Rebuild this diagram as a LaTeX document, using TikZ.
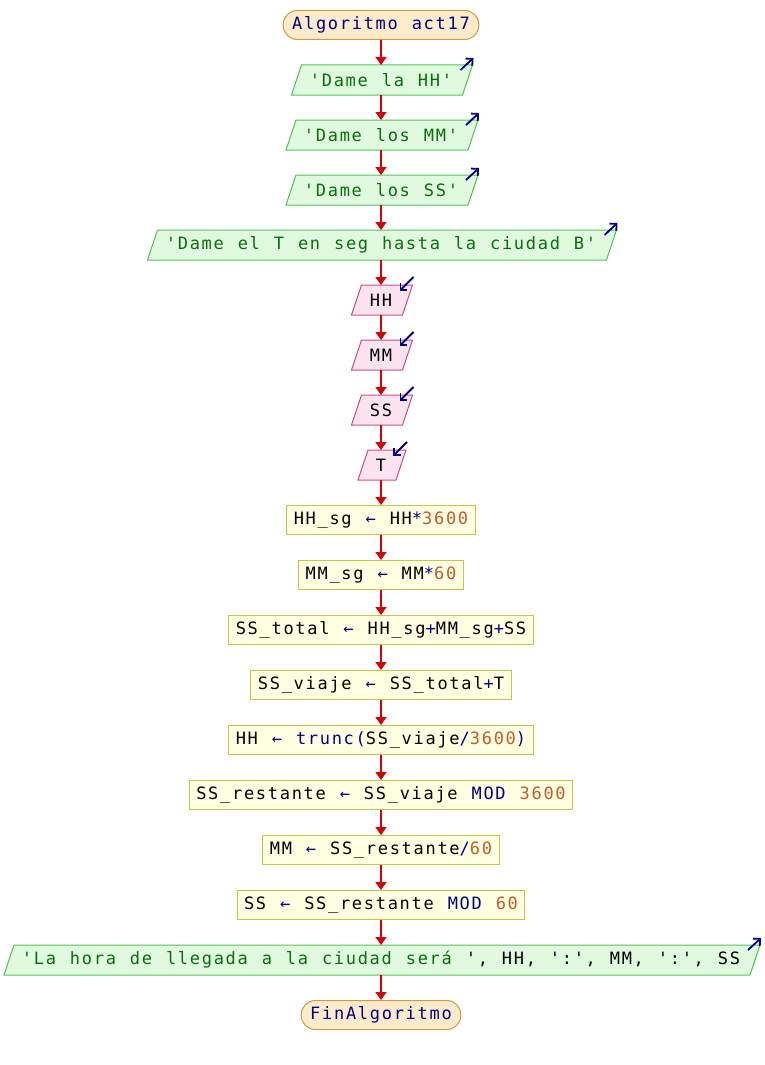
\documentclass[tikz,border=0pt]{standalone}
\usepackage{fontspec}
\usetikzlibrary{arrows.meta,calc,backgrounds}
\newfontfamily\flowfont{DejaVu Sans Mono}[LetterSpace=10,WordSpace={1.166,0,0},Ligatures=TeXOff]

\definecolor{termfill}{HTML}{FDEBCB}
\definecolor{termline}{HTML}{D19A45}
\definecolor{outfill}{HTML}{E0FAE0}
\definecolor{outline}{HTML}{5CBF5C}
\definecolor{infill}{HTML}{FCE4EF}
\definecolor{inline}{HTML}{C8508A}
\definecolor{procfill}{HTML}{FFFFE2}
\definecolor{procline}{HTML}{C8C34A}
\definecolor{flowred}{HTML}{CC0000}
\definecolor{kwblue}{HTML}{000080}
\definecolor{strgreen}{HTML}{0A6E0A}
\definecolor{numbrown}{HTML}{B8602E}

\newcommand{\fkw}[1]{\textcolor{kwblue}{#1}}
\newcommand{\fstr}[1]{\textcolor{strgreen}{#1}}
\newcommand{\fnum}[1]{\textcolor{numbrown}{#1}}
\newcommand{\fop}[1]{\textcolor{kwblue}{#1}}
\newcommand{\fasg}{\textcolor{kwblue}{←}}

\tikzset{
  every node/.style={font=\flowfont\fontsize{17}{20}\selectfont, minimum height=29pt, line width=1pt},
  termbox/.style={rectangle, rounded corners=14pt, fill=termfill, draw=termline, inner xsep=9pt},
  iobox/.style={rectangle, inner xsep=0pt},
  procbox/.style={rectangle, fill=procfill, draw=procline, inner xsep=7pt},
  flow/.style={draw=flowred, line width=1.6pt, -{Triangle[width=11pt,length=8pt]}},
  iomark/.style={draw=kwblue, line width=1.8pt, -{Straight Barb[length=5pt,width=10pt]}},
  slanted/.style={line width=1pt}
}

\begin{document}
\begin{tikzpicture}[x=1pt,y=1pt]
\useasboundingbox (0,0) rectangle (764,-1065);

\node[termbox] (n0) at (381,-25) {\fkw{Algoritmo act17}};
\node[iobox, minimum width=170pt] (n1) at (381,-80) {\fstr{'Dame la HH'}};
\node[iobox, minimum width=181pt] (n2) at (381,-135) {\fstr{'Dame los MM'}};
\node[iobox, minimum width=181pt] (n3) at (381,-190) {\fstr{'Dame los SS'}};
\node[iobox, minimum width=458pt] (n4) at (381,-245) {\fstr{'Dame el T en seg hasta la ciudad B'}};
\node[iobox, minimum width=50pt] (n5) at (381,-300) {HH};
\node[iobox, minimum width=50pt] (n6) at (381,-355) {MM};
\node[iobox, minimum width=50pt] (n7) at (381,-410) {SS};
\node[iobox, minimum width=37pt] (n8) at (381,-465) {T};
\node[procbox] (n9) at (381,-520) {HH\_sg \fasg{} HH\fop{*}\fnum{3600}};
\node[procbox] (n10) at (381,-575) {MM\_sg \fasg{} MM\fop{*}\fnum{60}};
\node[procbox] (n11) at (381,-630) {SS\_total \fasg{} HH\_sg\fop{+}MM\_sg\fop{+}SS};
\node[procbox] (n12) at (381,-685) {SS\_viaje \fasg{} SS\_total\fop{+}T};
\node[procbox] (n13) at (381,-740) {HH \fasg{} \fop{trunc(}SS\_viaje\fop{/}\fnum{3600}\fop{)}};
\node[procbox] (n14) at (381,-795) {SS\_restante \fasg{} SS\_viaje \fop{MOD} \fnum{3600}};
\node[procbox] (n15) at (381,-850) {MM \fasg{} SS\_restante\fop{/}\fnum{60}};
\node[procbox] (n16) at (381,-905) {SS \fasg{} SS\_restante \fop{MOD} \fnum{60}};
\node[iobox, minimum width=745pt] (n17) at (381,-960) {\fstr{'La hora de llegada a la ciudad será }', HH, ':', MM, ':', SS};
\node[termbox] (n18) at (381,-1015) {\fkw{FinAlgoritmo}};

% slanted input/output boxes behind their texts
\begin{scope}[on background layer]
\foreach \n/\f/\d in {n1/outfill/outline,n2/outfill/outline,n3/outfill/outline,
  n4/outfill/outline,n17/outfill/outline,n5/infill/inline,n6/infill/inline,
  n7/infill/inline,n8/infill/inline}
  \filldraw[slanted, fill=\f, draw=\d]
    ($(\n.south west)+(-4,0)$) -- ($(\n.south east)+(-4,0)$) --
    ($(\n.north east)+(6,0)$) -- ($(\n.north west)+(6,0)$) -- cycle;
\end{scope}

% main flow
\foreach \a/\b in {n0/n1,n1/n2,n2/n3,n3/n4,n4/n5,n5/n6,n6/n7,n7/n8,n8/n9,
  n9/n10,n10/n11,n11/n12,n12/n13,n13/n14,n14/n15,n15/n16,n16/n17,n17/n18}
  \draw[flow] (\a.south) -- (\b.north);

% output marks
\foreach \n in {n1,n2,n3,n4,n17}
  \draw[iomark] ($(\n.north east)+(-6,-5)$) -- ++(13,12);
% input marks
\foreach \n in {n5,n6,n7,n8}
  \draw[iomark] ($(\n.north east)+(7,8)$) -- ++(-14,-14);
\end{tikzpicture}
\end{document}
